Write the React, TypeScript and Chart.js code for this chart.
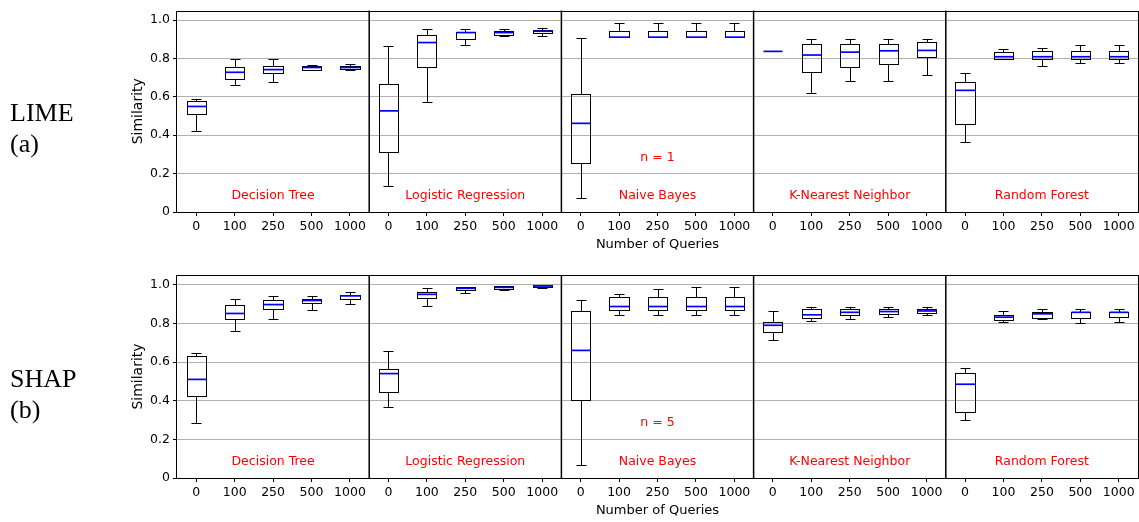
import React, { useEffect, useRef } from 'react';
import { Chart, registerables } from 'chart.js';

Chart.register(...registerables);

const QUERY_COUNTS = ['0', '100', '250', '500', '1000'];
const CLASSIFIERS = ['Decision Tree', 'Logistic Regression', 'Naive Bayes', 'K-Nearest Neighbor', 'Random Forest'];
const Y_TICKS = [0, 0.2, 0.4, 0.6, 0.8, 1.0];
const Y_TICK_LABELS = ['0', '0.2', '0.4', '0.6', '0.8', '1.0'];

// each box: [lower whisker, Q1, median, Q3, upper whisker], one per query count
const LIME_DECISION_TREE = [
  [0.423, 0.510, 0.550, 0.576, 0.588],
  [0.661, 0.691, 0.728, 0.754, 0.795],
  [0.675, 0.725, 0.742, 0.759, 0.795],
  [0.740, 0.741, 0.753, 0.761, 0.765],
  [0.742, 0.743, 0.753, 0.759, 0.773],
];
const LIME_LOGISTIC_REGRESSION = [
  [0.136, 0.314, 0.527, 0.667, 0.864],
  [0.574, 0.758, 0.883, 0.921, 0.954],
  [0.869, 0.900, 0.935, 0.938, 0.955],
  [0.919, 0.924, 0.935, 0.943, 0.955],
  [0.919, 0.935, 0.942, 0.950, 0.960],
];
const LIME_NAIVE_BAYES = [
  [0.072, 0.256, 0.462, 0.613, 0.909],
  [0.911, 0.911, 0.911, 0.945, 0.985],
  [0.911, 0.911, 0.911, 0.945, 0.985],
  [0.911, 0.911, 0.911, 0.945, 0.985],
  [0.911, 0.911, 0.911, 0.945, 0.985],
];
const LIME_KNN = [
  [0.837, 0.837, 0.837, 0.837, 0.837],
  [0.622, 0.728, 0.818, 0.876, 0.902],
  [0.684, 0.756, 0.833, 0.878, 0.902],
  [0.684, 0.771, 0.840, 0.878, 0.902],
  [0.713, 0.809, 0.842, 0.885, 0.902],
];
const LIME_RANDOM_FOREST = [
  [0.364, 0.459, 0.634, 0.680, 0.723],
  [0.799, 0.799, 0.809, 0.833, 0.847],
  [0.761, 0.799, 0.809, 0.840, 0.852],
  [0.775, 0.799, 0.809, 0.840, 0.868],
  [0.775, 0.799, 0.809, 0.840, 0.868],
];

const SHAP_DECISION_TREE = [
  [0.284, 0.426, 0.510, 0.629, 0.648],
  [0.759, 0.825, 0.851, 0.895, 0.926],
  [0.825, 0.873, 0.897, 0.921, 0.942],
  [0.868, 0.904, 0.918, 0.926, 0.942],
  [0.902, 0.924, 0.942, 0.947, 0.962],
];
const SHAP_LOGISTIC_REGRESSION = [
  [0.368, 0.445, 0.540, 0.564, 0.655],
  [0.890, 0.933, 0.950, 0.962, 0.981],
  [0.955, 0.973, 0.981, 0.986, 0.988],
  [0.973, 0.979, 0.986, 0.991, 0.993],
  [0.985, 0.988, 0.993, 0.996, 0.998],
];
const SHAP_NAIVE_BAYES = [
  [0.065, 0.406, 0.660, 0.864, 0.919],
  [0.842, 0.868, 0.887, 0.938, 0.952],
  [0.842, 0.868, 0.887, 0.938, 0.978],
  [0.842, 0.868, 0.887, 0.938, 0.988],
  [0.842, 0.868, 0.887, 0.938, 0.988],
];
const SHAP_KNN = [
  [0.713, 0.753, 0.790, 0.808, 0.862],
  [0.813, 0.830, 0.844, 0.873, 0.883],
  [0.820, 0.844, 0.857, 0.873, 0.883],
  [0.835, 0.847, 0.861, 0.873, 0.883],
  [0.844, 0.854, 0.864, 0.875, 0.883],
];
const SHAP_RANDOM_FOREST = [
  [0.302, 0.340, 0.485, 0.545, 0.570],
  [0.808, 0.818, 0.832, 0.845, 0.866],
  [0.825, 0.830, 0.849, 0.859, 0.873],
  [0.801, 0.830, 0.857, 0.861, 0.875],
  [0.809, 0.834, 0.857, 0.861, 0.875],
];

const LIME_PANELS = [LIME_DECISION_TREE, LIME_LOGISTIC_REGRESSION, LIME_NAIVE_BAYES, LIME_KNN, LIME_RANDOM_FOREST];
const SHAP_PANELS = [SHAP_DECISION_TREE, SHAP_LOGISTIC_REGRESSION, SHAP_NAIVE_BAYES, SHAP_KNN, SHAP_RANDOM_FOREST];
const LIME_NOTE = 'n = 1';
const SHAP_NOTE = 'n = 5';
const NOTE_PANEL = 2;
const NOTE_Y = 0.285;
const NAME_Y = 0.083;

const FONT = 'DejaVu Sans';

type RowProps = {
  panels: number[][][];
  note: string;
  top: number;
  height: number;
  padTop: number;
  xHeight: number;
  titlePad: number;
};

function BoxRow({ panels, note, top, height, padTop, xHeight, titlePad }: RowProps) {
  const ref = useRef<HTMLCanvasElement | null>(null);

  useEffect(() => {
    if (!ref.current) return;
    const boxes = panels.flat();
    const labels = CLASSIFIERS.flatMap(() => QUERY_COUNTS);

    const boxPlugin = {
      id: 'boxExtras',
      afterDatasetsDraw(chart: any) {
        const { ctx, scales } = chart;
        const x = scales.x;
        const y = scales.y;
        const meta = chart.getDatasetMeta(0);
        const slot = x.getPixelForValue(1) - x.getPixelForValue(0);
        const snap = (v: number) => Math.round(v) + 0.5;
        const line = (x1: number, y1: number, x2: number, y2: number) => {
          ctx.beginPath();
          ctx.moveTo(x1, y1);
          ctx.lineTo(x2, y2);
          ctx.stroke();
        };
        ctx.save();
        boxes.forEach((b, i) => {
          const [lo, q1, med, q3, hi] = b;
          const bar = meta.data[i];
          const cx = snap(bar.x);
          const left = snap(bar.x - bar.width / 2);
          const right = snap(bar.x + bar.width / 2);
          const yq1 = snap(y.getPixelForValue(q1));
          const yq3 = snap(y.getPixelForValue(q3));
          const ylo = snap(y.getPixelForValue(lo));
          const yhi = snap(y.getPixelForValue(hi));
          ctx.strokeStyle = '#000';
          ctx.lineWidth = 1;
          // whiskers
          line(cx, yq1, cx, ylo);
          line(cx, yq3, cx, yhi);
          const capHalf = slot * 0.13;
          line(cx - capHalf, ylo, cx + capHalf, ylo);
          line(cx - capHalf, yhi, cx + capHalf, yhi);
          // box outline
          if (yq1 !== yq3) ctx.strokeRect(left, yq3, right - left, yq1 - yq3);
          // median
          ctx.strokeStyle = '#0000ff';
          ctx.lineWidth = 1.7;
          line(left, y.getPixelForValue(med), right, y.getPixelForValue(med));
        });
        ctx.restore();
      },
      afterDraw(chart: any) {
        const { ctx, chartArea, scales } = chart;
        const x = scales.x;
        const y = scales.y;
        ctx.save();
        // panel separators
        ctx.strokeStyle = '#000';
        ctx.lineWidth = 1.5;
        for (let p = 1; p < CLASSIFIERS.length; p++) {
          const px = (x.getPixelForValue(p * 5 - 1) + x.getPixelForValue(p * 5)) / 2;
          ctx.beginPath();
          ctx.moveTo(px, chartArea.top);
          ctx.lineTo(px, chartArea.bottom);
          ctx.stroke();
        }
        // frame
        ctx.lineWidth = 1;
        const l = Math.round(chartArea.left) - 0.5;
        const r = Math.round(chartArea.right) + 0.5;
        const t = Math.round(chartArea.top) + 0.5;
        const b = Math.round(chartArea.bottom) + 0.5;
        ctx.strokeRect(l, t, r - l, b - t);
        // labels
        ctx.fillStyle = '#ff0000';
        ctx.font = `12.5px "${FONT}"`;
        ctx.textAlign = 'center';
        ctx.textBaseline = 'middle';
        CLASSIFIERS.forEach((name, p) => {
          const cx = x.getPixelForValue(p * 5 + 2);
          ctx.fillText(name, cx, y.getPixelForValue(NAME_Y));
        });
        ctx.fillText(note, x.getPixelForValue(NOTE_PANEL * 5 + 2), y.getPixelForValue(NOTE_Y));
        ctx.restore();
      },
    };

    const chart = new Chart(ref.current, {
      type: 'bar',
      data: {
        labels,
        datasets: [
          {
            data: boxes.map((b) => [b[1], b[3]]) as any,
            backgroundColor: 'rgba(0,0,0,0)',
            borderColor: 'rgba(0,0,0,0)',
            borderWidth: 0,
            borderSkipped: false,
            barPercentage: 0.5,
            categoryPercentage: 1,
          },
        ],
      },
      options: {
        animation: false,
        responsive: false,
        maintainAspectRatio: false,
        events: [],
        layout: { padding: { left: 124, right: 1, top: padTop, bottom: 0 } },
        plugins: { legend: { display: false }, tooltip: { enabled: false } },
        scales: {
          x: {
            type: 'category',
            offset: true,
            grid: {
              display: true,
              drawOnChartArea: false,
              drawTicks: true,
              tickLength: 4,
              tickColor: '#000',
              offset: false,
            },
            border: { display: false },
            ticks: {
              autoSkip: false,
              maxRotation: 0,
              minRotation: 0,
              padding: 3,
              color: '#000',
              font: { family: FONT, size: 12.5 },
            },
            title: {
              display: true,
              text: 'Number of Queries',
              color: '#000',
              font: { family: FONT, size: 13 },
              padding: { top: 0, bottom: titlePad },
            },
            afterFit: (s: any) => {
              s.height = xHeight;
            },
          },
          y: {
            type: 'linear',
            min: 0,
            max: 1.05,
            afterBuildTicks: (s: any) => {
              s.ticks = Y_TICKS.map((v) => ({ value: v }));
            },
            afterFit: (s: any) => {
              s.width = 53;
            },
            grid: {
              color: '#b0b0b0',
              lineWidth: 1,
              drawTicks: true,
              tickLength: 4,
              tickColor: '#000',
            },
            border: { display: false },
            ticks: {
              padding: 3,
              color: '#000',
              font: { family: FONT, size: 12.5 },
              callback: (v: any) => {
                const i = Y_TICKS.indexOf(Number(v));
                return i >= 0 ? Y_TICK_LABELS[i] : '';
              },
            },
            title: {
              display: true,
              text: 'Similarity',
              color: '#000',
              font: { family: FONT, size: 14 },
              padding: { top: 6, bottom: 0 },
            },
          },
        },
      },
      plugins: [boxPlugin],
    });
    return () => chart.destroy();
  }, []);

  return (
    <canvas
      ref={ref}
      width={1139}
      height={height}
      style={{ position: 'absolute', left: 0, top, width: 1139, height, display: 'block' }}
    />
  );
}

const serif: React.CSSProperties = {
  position: 'absolute',
  left: 10,
  fontFamily: '"Liberation Serif", "DejaVu Serif", serif',
  fontSize: 26,
  lineHeight: '26px',
  color: '#000',
  whiteSpace: 'nowrap',
};

export default function App() {
  return (
    <div style={{ position: 'absolute', left: 0, top: 0, width: 1139, height: 522, background: '#fff', overflow: 'hidden' }}>
      <BoxRow panels={LIME_PANELS} note={LIME_NOTE} top={0} height={261} padTop={8} xHeight={49} titlePad={9} />
      <BoxRow panels={SHAP_PANELS} note={SHAP_NOTE} top={261} height={261} padTop={14} xHeight={44} titlePad={4} />
      <div style={{ ...serif, top: 100 }}>LIME</div>
      <div style={{ ...serif, top: 131 }}>(a)</div>
      <div style={{ ...serif, top: 366 }}>SHAP</div>
      <div style={{ ...serif, top: 397 }}>(b)</div>
    </div>
  );
}
